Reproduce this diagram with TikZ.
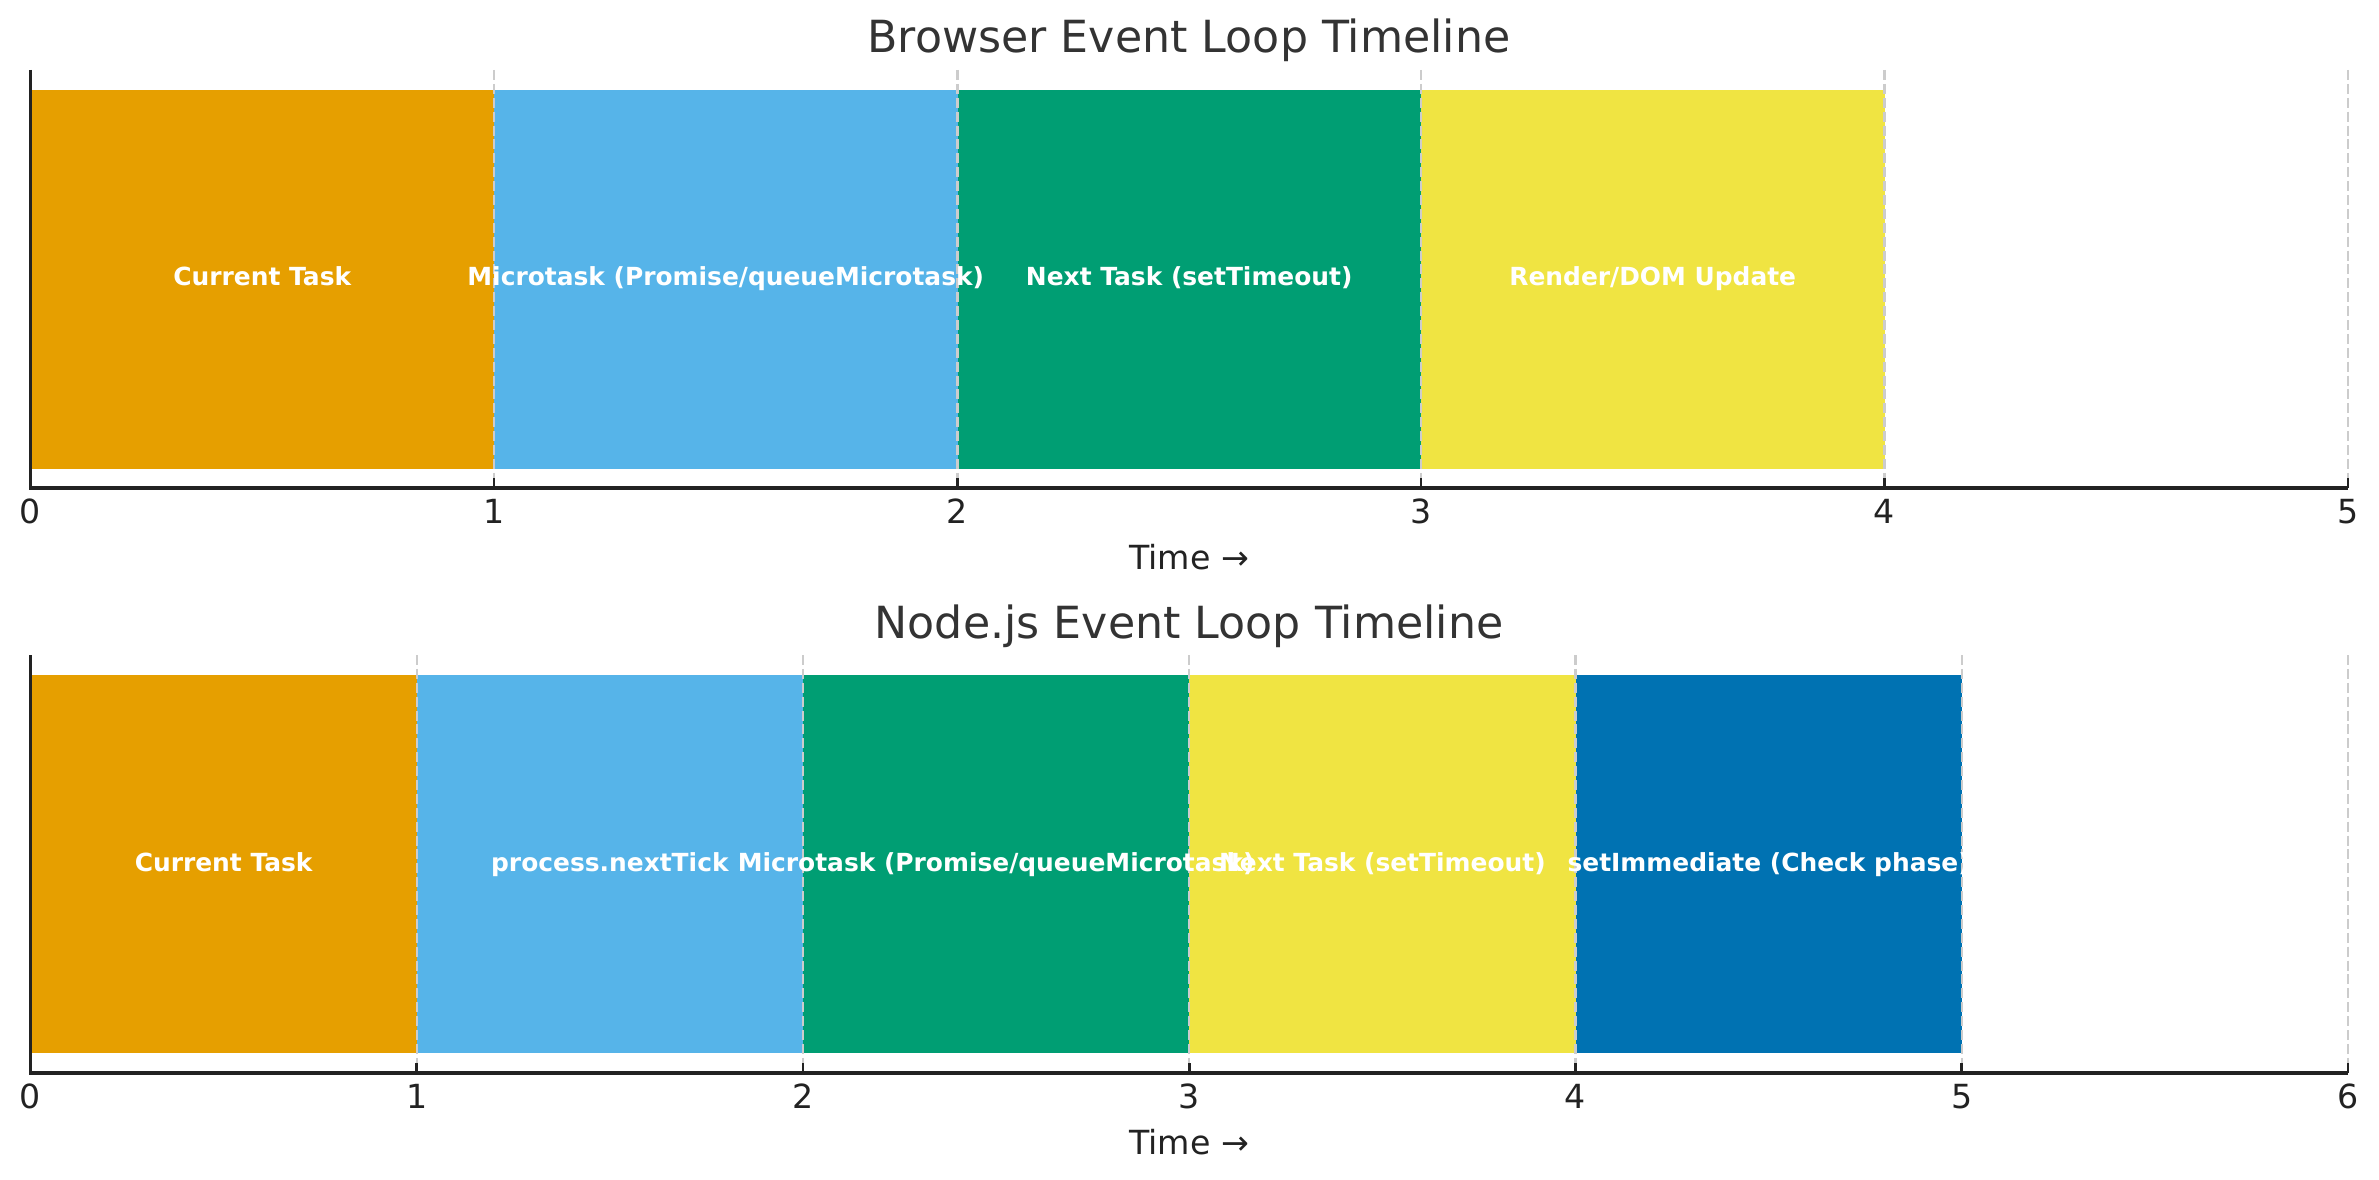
\documentclass[tikz,border=0pt]{standalone}
\usepackage{fontspec}
\setmainfont{DejaVu Sans}
\definecolor{corange}{HTML}{E69F00}
\definecolor{csky}{HTML}{56B4E9}
\definecolor{cgreen}{HTML}{009E73}
\definecolor{cyellow}{HTML}{F0E442}
\definecolor{cblue}{HTML}{0072B2}
\definecolor{ctitle}{HTML}{333333}
\definecolor{cspine}{HTML}{222222}
\definecolor{cgrid}{HTML}{CCCCCC}
\tikzset{
  gridline/.style={cgrid, line width=0.8bp, dash pattern=on 3.6bp off 1.4bp},
  spine/.style={cspine, line width=1.1bp},
  tickmark/.style={cspine, line width=1bp},
  ticklabel/.style={anchor=base, inner sep=0pt, text=cspine, font=\fontsize{12}{14}\selectfont},
  axlabel/.style={anchor=base, inner sep=0pt, text=cspine, font=\fontsize{12}{14}\selectfont},
  plottitle/.style={anchor=base, inner sep=0pt, text=ctitle, font=\fontsize{16}{19}\selectfont},
  barlabel/.style={anchor=base, inner sep=0pt, text=white, font=\bfseries\fontsize{9}{11}\selectfont},
}
\begin{document}
\begin{tikzpicture}[x=0.36bp, y=-0.36bp]
\useasboundingbox (0,0) rectangle (2379,1180);
\fill[white] (0,0) rectangle (2379,1180);
% ---------- top panel: browser ----------
\foreach \i/\c in {0/corange,1/csky,2/cgreen,3/cyellow}
  \fill[\c] ({30.5+463.5*\i},90) rectangle ({30.5+463.5*(\i+1)},469);
\foreach \i in {1,...,5}
  \draw[gridline] ({30.5+463.5*\i},70) -- ({30.5+463.5*\i},488);
\node[barlabel] (ta) at ({30.5+463.5*0.5},286) {Current Task};
\node[barlabel] (tb) at ({30.5+463.5*1.5},286) {Microtask (Promise/queueMicrotask)};
\node[barlabel] (tc) at ({30.5+463.5*2.5},286) {Next Task (setTimeout)};
\node[barlabel] (td) at ({30.5+463.5*3.5},286) {Render/DOM Update};
\foreach \i in {0,...,5}{
  \draw[tickmark] ({30.5+463.5*\i},488) -- ({30.5+463.5*\i},478);
  \node[ticklabel] (tt\i) at ({30.5+463.5*\i},523) {\i};
}
\draw[spine] (30.5,70) -- (30.5,488) -- (2348,488);
\node[axlabel] (txl) at (1189,569) {Time →};
\node[plottitle] (ttitle) at (1189,53) {Browser Event Loop Timeline};
% ---------- bottom panel: node.js ----------
\foreach \i/\c in {0/corange,1/csky,2/cgreen,3/cyellow,4/cblue}
  \fill[\c] ({30.5+386.25*\i},675) rectangle ({30.5+386.25*(\i+1)},1053);
\foreach \i in {1,...,6}
  \draw[gridline] ({30.5+386.25*\i},655) -- ({30.5+386.25*\i},1073);
\node[barlabel] (ba) at ({30.5+386.25*0.5},871) {Current Task};
\node[barlabel] (bb) at ({30.5+386.25*1.5},871) {process.nextTick};
\node[barlabel] (bc) at ({30.5+386.25*2.5},871) {Microtask (Promise/queueMicrotask)};
\node[barlabel] (bd) at ({30.5+386.25*3.5},871) {Next Task (setTimeout)};
\node[barlabel] (be) at ({30.5+386.25*4.5},871) {setImmediate (Check phase)};
\foreach \i in {0,...,6}{
  \draw[tickmark] ({30.5+386.25*\i},1073) -- ({30.5+386.25*\i},1063);
  \node[ticklabel] (bt\i) at ({30.5+386.25*\i},1108) {\i};
}
\draw[spine] (30.5,655) -- (30.5,1073) -- (2348,1073);
\node[axlabel] (bxl) at (1189,1154) {Time →};
\node[plottitle] (btitle) at (1189,638) {Node.js Event Loop Timeline};
\end{tikzpicture}
\end{document}
